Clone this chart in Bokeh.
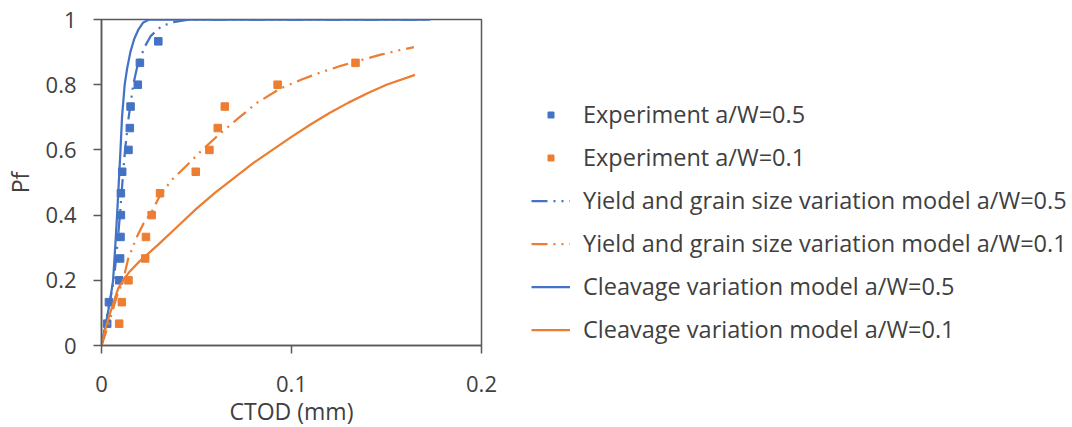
from bokeh.plotting import figure
from bokeh.models import Range1d, FixedTicker, NumeralTickFormatter, Legend, LegendItem
from bokeh.embed import file_html
from bokeh.resources import INLINE

BLUE = "#4472C4"
ORANGE = "#ED7D31"
FONT = "Open Sans"
TXT = "#404040"

# Experiment a/W=0.5
exp05_x = [0.0030, 0.0039, 0.0093, 0.0098, 0.0100, 0.0102, 0.0102, 0.0109, 0.0142, 0.0149, 0.0153, 0.0191, 0.0202, 0.0299]
exp05_y = [0.067, 0.133, 0.200, 0.267, 0.333, 0.400, 0.467, 0.533, 0.600, 0.667, 0.733, 0.800, 0.867, 0.933]

# Experiment a/W=0.1
exp01_x = [0.0093, 0.0107, 0.0142, 0.0230, 0.0234, 0.0264, 0.0308, 0.0496, 0.0568, 0.0612, 0.0649, 0.0927, 0.1337]
exp01_y = [0.067, 0.133, 0.200, 0.267, 0.333, 0.400, 0.467, 0.533, 0.600, 0.667, 0.733, 0.800, 0.867]

# Yield and grain size variation model a/W=0.5
yg05_x = [0, 0.0020, 0.0042, 0.0065, 0.0082, 0.0097, 0.0110, 0.0124, 0.0143, 0.0167, 0.0190, 0.0228, 0.0260, 0.0317, 0.0387, 0.0450, 0.0600, 0.1000, 0.1400, 0.1730]
yg05_y = [0, 0.060, 0.130, 0.200, 0.300, 0.400, 0.500, 0.600, 0.700, 0.800, 0.860, 0.917, 0.950, 0.980, 0.993, 0.999, 1.000, 1.000, 1.000, 1.000]

# Yield and grain size variation model a/W=0.1
yg01_x = [0, 0.0040, 0.0080, 0.0114, 0.0140, 0.0185, 0.0220, 0.0264, 0.0308, 0.0370, 0.0450, 0.0530, 0.0624, 0.0730, 0.0820, 0.0940, 0.1050, 0.1150, 0.1260, 0.1370, 0.1470, 0.1560, 0.1644]
yg01_y = [0, 0.070, 0.150, 0.200, 0.265, 0.332, 0.373, 0.410, 0.460, 0.508, 0.553, 0.600, 0.650, 0.702, 0.745, 0.788, 0.815, 0.837, 0.858, 0.876, 0.892, 0.905, 0.915]

# Cleavage variation model a/W=0.5
cl05_x = [0, 0.0012, 0.0023, 0.0044, 0.0061, 0.0072, 0.0082, 0.0091, 0.0100, 0.0108, 0.0122, 0.0135, 0.0152, 0.0172, 0.0195, 0.0218, 0.0250, 0.0400, 0.1000, 0.1730]
cl05_y = [0, 0.030, 0.067, 0.133, 0.200, 0.300, 0.400, 0.500, 0.600, 0.700, 0.800, 0.850, 0.900, 0.940, 0.970, 0.990, 1.000, 1.000, 1.000, 1.000]

# Cleavage variation model a/W=0.1
cl01_x = [0, 0.0020, 0.0044, 0.0088, 0.0120, 0.0150, 0.0200, 0.0300, 0.0400, 0.0500, 0.0600, 0.0700, 0.0800, 0.0900, 0.1000, 0.1100, 0.1200, 0.1300, 0.1400, 0.1500, 0.1650]
cl01_y = [0, 0.050, 0.097, 0.175, 0.205, 0.228, 0.258, 0.310, 0.365, 0.420, 0.470, 0.515, 0.560, 0.600, 0.640, 0.678, 0.713, 0.745, 0.774, 0.800, 0.830]

x_ticks = [0, 0.1, 0.2]
y_ticks = [0, 0.2, 0.4, 0.6, 0.8, 1.0]

p = figure(frame_width=380, frame_height=326, output_backend="svg", toolbar_location=None,
           x_range=Range1d(0, 0.2), y_range=Range1d(0, 1),
           min_border_left=101, min_border_right=591, min_border_top=19, min_border_bottom=10,
           x_axis_label="CTOD (mm)", y_axis_label="Pf")
p.xgrid.visible = False
p.ygrid.visible = False
p.outline_line_color = "#595959"
p.outline_line_width = 1.5
p.outline_line_alpha = 1.0
p.background_fill_color = "white"
p.border_fill_color = "white"

for ax, ticks in ((p.xaxis[0], x_ticks), (p.yaxis[0], y_ticks)):
    ax.ticker = FixedTicker(ticks=ticks)
    ax.formatter = NumeralTickFormatter(format="0.[0]")
    ax.axis_line_color = "#595959"
    ax.axis_line_width = 1.5
    ax.major_tick_line_color = "#595959"
    ax.major_tick_line_width = 1.5
    ax.major_tick_in = 0
    ax.major_tick_out = 8
    ax.minor_tick_line_color = None
    ax.major_label_text_font = FONT
    ax.major_label_text_font_size = "22px"
    ax.major_label_text_color = TXT
    ax.axis_label_text_font = FONT
    ax.axis_label_text_font_size = "23px"
    ax.axis_label_text_font_style = "normal"
    ax.axis_label_text_color = TXT
p.yaxis[0].major_label_standoff = 17
p.yaxis[0].axis_label_standoff = 7
p.xaxis[0].major_label_standoff = 22
p.xaxis[0].axis_label_standoff = 0

dash = "16 6 2 6 2 6"
r1 = p.scatter(exp05_x, exp05_y, marker="square", size=7.5, color=BLUE)
r2 = p.scatter(exp01_x, exp01_y, marker="square", size=7.5, color=ORANGE)
r3 = p.line(yg05_x, yg05_y, color=BLUE, line_width=2.25, line_dash=dash)
r4 = p.line(yg01_x, yg01_y, color=ORANGE, line_width=2.25, line_dash=dash)
r5 = p.line(cl05_x, cl05_y, color=BLUE, line_width=2.25)
r6 = p.line(cl01_x, cl01_y, color=ORANGE, line_width=2.25)

legend = Legend(items=[
    LegendItem(label="Experiment a/W=0.5", renderers=[r1]),
    LegendItem(label="Experiment a/W=0.1", renderers=[r2]),
    LegendItem(label="Yield and grain size variation model a/W=0.5", renderers=[r3]),
    LegendItem(label="Yield and grain size variation model a/W=0.1", renderers=[r4]),
    LegendItem(label="Cleavage variation model a/W=0.5", renderers=[r5]),
    LegendItem(label="Cleavage variation model a/W=0.1", renderers=[r6]),
], location=(50, 0), margin=0, padding=0, glyph_width=39, glyph_height=15,
   label_height=32, spacing=11, label_standoff=13,
   label_text_font=FONT, label_text_font_size="23.5px", label_text_color=TXT,
   border_line_alpha=0, background_fill_alpha=0)
p.add_layout(legend, "right")

open("out.html", "w").write(file_html(p, INLINE))
